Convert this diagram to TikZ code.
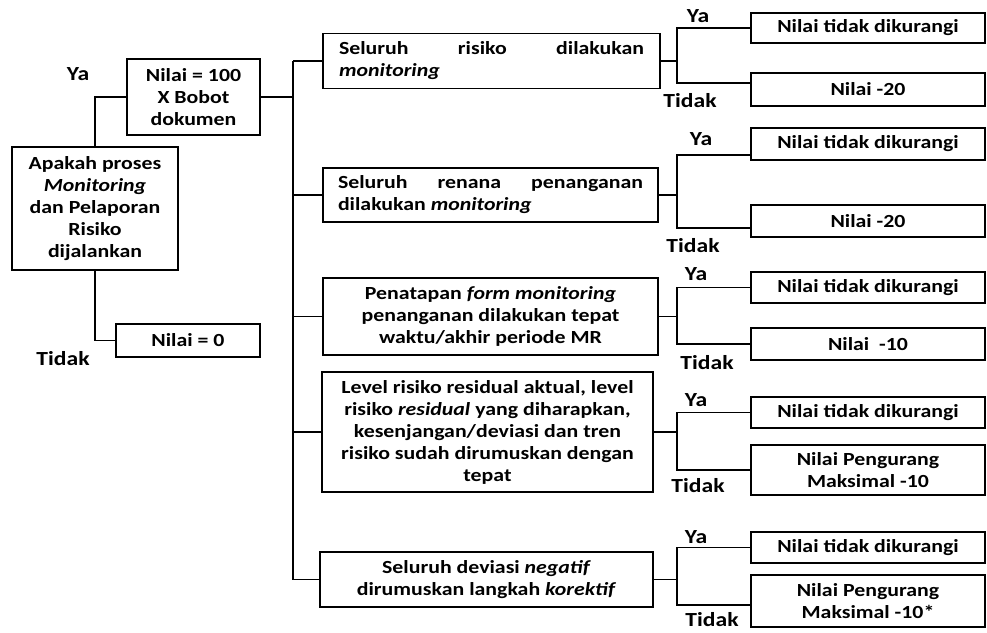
\documentclass[tikz,border=0pt]{standalone}
\usepackage{fontspec}
\setmainfont{Carlito}[FakeStretch=1.18]
\begin{document}
\begin{tikzpicture}[x=1pt,y=-1pt,
  txt/.style={font=\fontsize{18.5}{22}\selectfont\bfseries},
  box/.style={draw, line width=1.7pt, txt, inner sep=0pt, align=center},
  jbox/.style={box, text width=305pt, align=justify},
  lbl/.style={font=\fontsize{20}{22}\selectfont\bfseries, inner sep=0pt},
  link/.style={line width=1.7pt}]
\useasboundingbox (0,0) rectangle (987,632);

% question and first split
\node[box, minimum width=166pt, minimum height=123pt] (q) at (95,208.5)
  {Apakah proses\\ \textit{Monitoring}\\ dan Pelaporan\\ Risiko\\ dijalankan};
\node[box, minimum width=133pt, minimum height=76pt] (n100) at (193.5,97)
  {Nilai = 100\\ X Bobot\\ dokumen};
\node[box, minimum width=144pt, minimum height=33pt] (n0) at (188,340.5) {Nilai = 0};
\node[lbl] (ya0) at (78,74) {Ya};
\node[lbl] (td0) at (63,359) {Tidak};

% criteria
\node[jbox, minimum width=337pt, minimum height=55pt] (b1) at (491.5,61)
  {Seluruh risiko dilakukan\linebreak \textit{monitoring}};
\node[jbox, minimum width=335pt, minimum height=54pt] (b2) at (490.5,195)
  {Seluruh renana penanganan\linebreak dilakukan \textit{monitoring}};
\node[box, minimum width=335pt, minimum height=77pt] (b3) at (490.5,316.5)
  {Penatapan \textit{form monitoring}\\ penanganan dilakukan tepat\\ waktu/akhir periode MR};
\node[box, minimum width=331pt, minimum height=120pt] (b4) at (487.5,432)
  {Level risiko residual aktual, level\\ risiko \textit{residual} yang diharapkan,\\ kesenjangan/deviasi dan tren\\ risiko sudah dirumuskan dengan\\ tepat};
\node[box, minimum width=333pt, minimum height=55pt] (b5) at (486.5,579.5)
  {Seluruh deviasi \textit{negatif}\\ dirumuskan langkah \textit{korektif}};

% outcomes
\tikzset{res/.style={box, minimum width=234pt, minimum height=#1}}
\node[res=30pt] (r1a) at (868,28) {Nilai tidak dikurangi};
\node[res=33pt] (r1b) at (868,89.5) {Nilai -20};
\node[res=32pt] (r2a) at (868,144) {Nilai tidak dikurangi};
\node[res=32pt] (r2b) at (868,221) {Nilai -20};
\node[res=31pt] (r3a) at (868,287.5) {Nilai tidak dikurangi};
\node[res=32pt] (r3b) at (868,344) {Nilai \ -10};
\node[res=31pt] (r4a) at (868,412.5) {Nilai tidak dikurangi};
\node[res=50pt] (r4b) at (868,470) {Nilai Pengurang\\ Maksimal -10};
\node[res=31pt] (r5a) at (868,547.5) {Nilai tidak dikurangi};
\node[res=52pt] (r5b) at (868,601) {Nilai Pengurang\\ Maksimal -10*};

% yes / no labels
\node[lbl] (ya1) at (698,16) {Ya};
\node[lbl] (td1) at (690,101) {Tidak};
\node[lbl] (ya2) at (701,139) {Ya};
\node[lbl] (td2) at (693,246) {Tidak};
\node[lbl] (ya3) at (696,274) {Ya};
\node[lbl] (td3) at (707,363) {Tidak};
\node[lbl] (ya4) at (696,400) {Ya};
\node[lbl] (td4) at (698,486) {Tidak};
\node[lbl] (ya5) at (696,537) {Ya};
\node[lbl] (td5) at (712,620) {Tidak};

% connectors
\coordinate (tr) at (293,0);
\coordinate (sx) at (677,0);
\draw[link] (q.north) |- (n100.west);
\draw[link] (q.south) |- (n0.west);
\draw[link] (n100.east) -- (n100.east -| tr);
\draw[link] (b1.west -| tr) -- (b5.west -| tr);
% each criterion splits into a yes (upper) and a no (lower) outcome
\foreach \b/\ra/\rb/\da/\db in {b1/r1a/r1b/0pt/6.5pt, b2/r2a/r2b/-11pt/-7pt,
    b3/r3a/r3b/0pt/0pt, b4/r4a/r4b/0pt/0pt, b5/r5a/r5b/0pt/-4pt}{
  \draw[link] (\b.west -| tr) -- (\b.west);
  \coordinate (s\b) at (\b.east -| sx);
  \draw[link] (\b.east) -- (s\b);
  \draw[link] ([yshift=\da]\ra.west) -| (s\b) |- ([yshift=\db]\rb.west);
}
\end{tikzpicture}
\end{document}
